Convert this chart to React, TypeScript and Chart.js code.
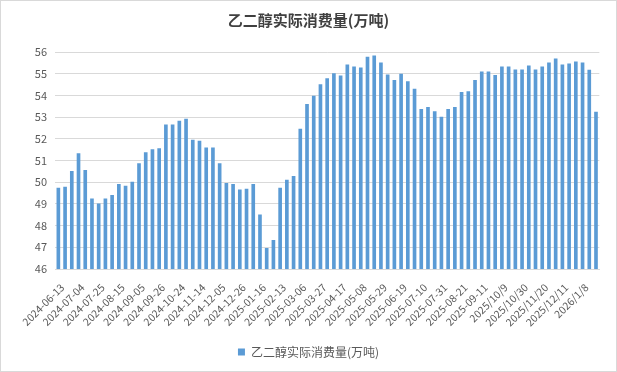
import React, { useEffect, useRef } from "react";
import { Chart, registerables } from "chart.js";

Chart.register(...registerables);

const TITLE = "乙二醇实际消费量(万吨)";
const SERIES_NAME = "乙二醇实际消费量(万吨)";

const dates: string[] = [
  "2024-06-13", "2024-06-20", "2024-06-27", "2024-07-04", "2024-07-11", "2024-07-18",
  "2024-07-25", "2024-08-01", "2024-08-08", "2024-08-15", "2024-08-22", "2024-08-29",
  "2024-09-05", "2024-09-12", "2024-09-19", "2024-09-26", "2024-10-10", "2024-10-17",
  "2024-10-24", "2024-10-31", "2024-11-07", "2024-11-14", "2024-11-21", "2024-11-28",
  "2024-12-05", "2024-12-12", "2024-12-19", "2024-12-26", "2025-01-02", "2025-01-09",
  "2025-01-16", "2025-01-23", "2025-02-06", "2025-02-13", "2025-02-20", "2025-02-27",
  "2025-03-06", "2025-03-13", "2025-03-20", "2025-03-27", "2025-04-03", "2025-04-10",
  "2025-04-17", "2025-04-24", "2025-05-01", "2025-05-08", "2025-05-15", "2025-05-22",
  "2025-05-29", "2025-06-05", "2025-06-12", "2025-06-19", "2025-06-26", "2025-07-03",
  "2025-07-10", "2025-07-17", "2025-07-24", "2025-07-31", "2025-08-07", "2025-08-14",
  "2025-08-21", "2025-08-28", "2025-09-04", "2025-09-11", "2025-09-18", "2025-09-25",
  "2025/10/9", "2025/10/16", "2025/10/23", "2025/10/30", "2025/11/6", "2025/11/13",
  "2025/11/20", "2025/11/27", "2025/12/4", "2025/12/11", "2025/12/18", "2025/12/25",
  "2026/1/8", "2026/1/15", "2026/1/22",
];

const consumption: number[] = [
  49.73, 49.78, 50.5, 51.32, 50.55, 49.23, 49.0, 49.23, 49.4, 49.9,
  49.82, 50.0, 50.86, 51.36, 51.5, 51.55, 52.64, 52.64, 52.82, 52.91,
  51.94, 51.9, 51.58, 51.58, 50.86, 49.95, 49.9, 49.65, 49.68, 49.9,
  48.5, 46.95, 47.32, 49.73, 50.1, 50.27, 52.45, 53.59, 53.97, 54.5,
  54.77, 55.0, 54.9, 55.41, 55.32, 55.27, 55.77, 55.82, 55.5, 54.95,
  54.7, 54.98, 54.64, 54.29, 53.36, 53.45, 53.26, 53.0, 53.36, 53.45,
  54.14, 54.18, 54.7, 55.09, 55.09, 54.92, 55.32, 55.32, 55.18, 55.18,
  55.36, 55.18, 55.32, 55.5, 55.68, 55.41, 55.45, 55.55, 55.5, 55.17, 53.23,
];

const Y_MIN = 46;
const Y_MAX = 56;
const Y_STEP = 1;
const LABEL_EVERY = 3;

const FONT = "'Microsoft YaHei', 'Noto Sans CJK SC', 'Noto Sans', sans-serif";

export default function App() {
  const canvasRef = useRef<HTMLCanvasElement | null>(null);

  useEffect(() => {
    document.body.style.margin = "0";
    const canvas = canvasRef.current;
    if (!canvas) return;
    const chart = new Chart(canvas, {
      type: "bar",
      data: {
        labels: dates,
        datasets: [
          {
            label: SERIES_NAME,
            data: consumption,
            backgroundColor: "#5B9BD5",
            borderWidth: 0,
            barThickness: 3,
          },
        ],
      },
      options: {
        animation: false,
        responsive: false,
        devicePixelRatio: 1,
        layout: { padding: { left: 16, right: 16, top: 0, bottom: 4 } },
        plugins: {
          title: {
            display: true,
            text: TITLE,
            color: "#404040",
            font: { family: FONT, size: 15, weight: "bold" },
            padding: { top: 11, bottom: 23 },
          },
          legend: {
            display: true,
            position: "bottom",
            labels: {
              color: "#595959",
              font: { family: FONT, size: 12 },
              boxWidth: 7,
              boxHeight: 7,
              padding: 10,
            },
          },
          tooltip: { enabled: false },
        },
        scales: {
          x: {
            grid: { display: false, drawTicks: false },
            border: { display: true, color: "#d9d9d9" },
            ticks: {
              autoSkip: false,
              maxRotation: 45,
              minRotation: 45,
              color: "#595959",
              font: { family: FONT, size: 10.5 },
              padding: 12,
              labelOffset: 4,
              callback: (_v: any, i: number) => (i % LABEL_EVERY === 0 ? dates[i] : ""),
            },
            afterFit: (scale: any) => {
              scale.height = 67;
            },
          },
          y: {
            min: Y_MIN,
            max: Y_MAX,
            grid: { color: "#d9d9d9", drawTicks: false },
            border: { display: false },
            ticks: {
              stepSize: Y_STEP,
              color: "#595959",
              font: { family: FONT, size: 11 },
              padding: 8,
            },
            afterFit: (scale: any) => {
              scale.width = 39;
            },
          },
        },
      },
    });
    return () => chart.destroy();
  }, []);

  return (
    <div style={{ position: "absolute", left: 0, top: 0, width: 617, height: 372, background: "#fff" }}>
      <canvas ref={canvasRef} width={617} height={372} style={{ display: "block" }} />
      <div
        style={{
          position: "absolute",
          inset: 0,
          border: "1px solid #d9d9d9",
          pointerEvents: "none",
        }}
      />
    </div>
  );
}
